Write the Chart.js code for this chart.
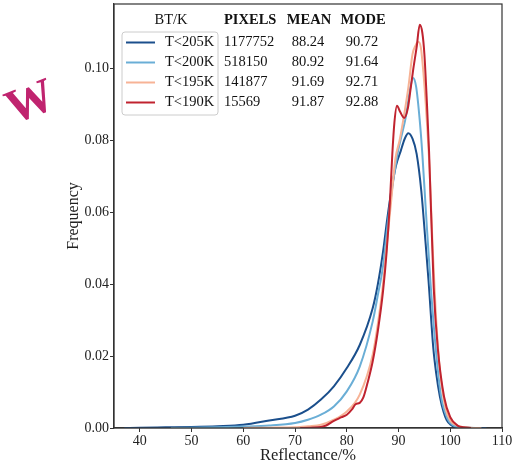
<!DOCTYPE html>
<html>
<head>
<meta charset="utf-8">
<script src="https://cdn.jsdelivr.net/npm/chart.js@4/dist/chart.umd.min.js"></script>
<style>
html, body { margin: 0; padding: 0; background: #fff; }
</style>
</head>
<body>
<canvas id="chart" width="512" height="471"></canvas>
<script>
// labels, colours and the stats table
var seriesLabels = ['T<205K', 'T<200K', 'T<195K', 'T<190K'];
var seriesColors = ['#1b4f8c', '#6aaed6', '#f7b396', '#c0232f'];
var pixelCounts = ['1177752', '518150', '141877', '15569'];
var meanValues = ['88.24', '80.92', '91.69', '91.87'];
var modeValues = ['90.72', '91.64', '92.71', '92.88'];

var xTicks = [40, 50, 60, 70, 80, 90, 100, 110];
var yTicks = [0, 0.02, 0.04, 0.06, 0.08, 0.10];

// density curves
var x205 = [37, 40, 45, 50, 55, 60, 65, 70, 72.5, 75, 77.5, 80, 82.5, 85, 86, 87, 87.8, 88.6, 89.5, 90.4, 91.2, 91.9, 92.7, 93.5, 94.4, 95.2, 95.8, 96.7, 97.3, 98, 98.7, 99.3, 100, 101, 103, 107];
var y205 = [0, 0.0001, 0.0002, 0.0003, 0.0005, 0.0009, 0.0021, 0.0034, 0.0051, 0.0079, 0.0116, 0.0167, 0.0231, 0.0333, 0.040, 0.049, 0.058, 0.066, 0.073, 0.077, 0.0805, 0.082, 0.0805, 0.0763, 0.066, 0.052, 0.041, 0.0226, 0.015, 0.0087, 0.0045, 0.0022, 0.001, 0.0003, 0.0001, 0];

var x200 = [46, 50, 55, 60, 65, 70, 72.5, 75, 77.5, 80, 82.5, 85, 86, 87, 88, 89, 89.9, 90.7, 91.4, 92.2, 92.8, 93.4, 94.1, 94.6, 95.3, 96.2, 97.2, 98.2, 99.5, 100.5, 102, 106];
var y200 = [0, 0.0001, 0.0002, 0.0004, 0.0007, 0.0014, 0.0023, 0.0037, 0.006, 0.0102, 0.0171, 0.0296, 0.037, 0.045, 0.058, 0.069, 0.077, 0.082, 0.0865, 0.094, 0.0974, 0.095, 0.0856, 0.0763, 0.060, 0.040, 0.022, 0.009, 0.0025, 0.0008, 0.0002, 0];

var x195 = [60, 65, 70, 72.5, 75, 77.5, 80, 82.5, 85, 86, 87, 87.6, 88.5, 89.4, 90.2, 90.9, 91.9, 92.7, 93.3, 93.8, 94.3, 94.8, 95.4, 96.0, 96.6, 97.2, 98, 99, 100, 101.5, 104, 106];
var y195 = [0, 0.0001, 0.0002, 0.0005, 0.0009, 0.0023, 0.0046, 0.0093, 0.0204, 0.029, 0.040, 0.049, 0.062, 0.075, 0.080, 0.0856, 0.0948, 0.104, 0.1065, 0.1075, 0.106, 0.099, 0.087, 0.072, 0.05, 0.032, 0.016, 0.006, 0.002, 0.0006, 0.0001, 0];

var x190 = [71, 73, 75, 76, 77.5, 79, 80, 81, 81.7, 82.5, 83.2, 84, 85, 86, 87, 87.7, 88.3, 88.8, 89.2, 89.7, 90.3, 91.1, 91.8, 92.3, 92.8, 93.5, 94.1, 94.6, 95.0, 95.5, 95.9, 96.8, 97.6, 98.8, 100, 101.5, 102.5, 104];
var y190 = [0, 0.0001, 0.0003, 0.0007, 0.002, 0.003, 0.0037, 0.0052, 0.0066, 0.007, 0.0085, 0.0125, 0.0185, 0.027, 0.038, 0.049, 0.062, 0.0763, 0.085, 0.0897, 0.088, 0.0863, 0.089, 0.094, 0.0994, 0.106, 0.1122, 0.110, 0.104, 0.090, 0.077, 0.039, 0.022, 0.0087, 0.003, 0.0006, 0.0002, 0];

var allX = [x205, x200, x195, x190];
var allY = [y205, y200, y195, y190];

var serif = 'Liberation Serif';

function toPoints(xs, ys) {
    return xs.map(function (x, i) { return { x: x, y: ys[i] }; });
}

var datasets = seriesLabels.map(function (label, i) {
    return {
        label: label,
        data: toPoints(allX[i], allY[i]),
        borderColor: seriesColors[i],
        backgroundColor: seriesColors[i],
        order: 3 - i   // red on top
    };
});

// frame, legend box, stats table, watermark
var decor = {
    id: 'decor',
    afterDraw: function (chart) {
        var ctx = chart.ctx;
        var a = chart.chartArea;
        ctx.save();
        ctx.strokeStyle = '#333';
        ctx.lineWidth = 1.2;
        ctx.strokeRect(a.left, a.top, a.right - a.left, a.bottom - a.top);

        // legend box
        ctx.beginPath();
        ctx.roundRect(122, 32, 96, 83, 3);
        ctx.fillStyle = 'rgba(255,255,255,0.85)';
        ctx.fill();
        ctx.strokeStyle = '#cccccc';
        ctx.lineWidth = 1;
        ctx.stroke();

        ctx.textBaseline = 'middle';
        ctx.fillStyle = '#111';
        ctx.font = '14.5px "' + serif + '"';
        ctx.textAlign = 'center';
        ctx.fillText('BT/K', 171, 20.5);

        ctx.font = 'bold 14.5px "' + serif + '"';
        ctx.textAlign = 'left';
        ctx.fillText('PIXELS', 224, 20.5);
        ctx.textAlign = 'center';
        ctx.fillText('MEAN', 309, 20.5);
        ctx.fillText('MODE', 363, 20.5);

        ctx.font = '14.5px "' + serif + '"';
        for (var i = 0; i < seriesLabels.length; i++) {
            var y = 42.5 + i * 20;
            ctx.strokeStyle = seriesColors[i];
            ctx.lineWidth = 2;
            ctx.beginPath();
            ctx.moveTo(126, y);
            ctx.lineTo(155, y);
            ctx.stroke();
            ctx.fillStyle = '#111';
            ctx.textAlign = 'left';
            ctx.fillText(seriesLabels[i], 165, y);
            ctx.fillText(pixelCounts[i], 224, y);
            ctx.textAlign = 'center';
            ctx.fillText(meanValues[i], 308, y);
            ctx.fillText(modeValues[i], 362, y);
        }

        // watermark
        ctx.translate(31, 104);
        ctx.rotate(-0.37);
        ctx.fillStyle = '#c0246f';
        ctx.font = 'bold 48px "' + serif + '"';
        ctx.textAlign = 'center';
        ctx.fillText('W', 0, 0);
        ctx.restore();
    }
};

var tickFont = { family: serif, size: 14 };

new Chart(document.getElementById('chart'), {
    type: 'line',
    data: { datasets: datasets },
    options: {
        responsive: false,
        animation: false,
        layout: { padding: { left: 60, right: 10, top: 4, bottom: 1 } },
        plugins: { legend: { display: false }, tooltip: { enabled: false } },
        elements: {
            point: { radius: 0 },
            line: { borderWidth: 2, cubicInterpolationMode: 'monotone' }
        },
        scales: {
            x: {
                type: 'linear',
                min: 35,
                max: 110,
                afterBuildTicks: function (s) { s.ticks = xTicks.map(function (v) { return { value: v }; }); },
                afterFit: function (s) { s.height = 42; s.paddingLeft = 0; s.paddingRight = 0; },
                grid: { drawOnChartArea: false, tickLength: 4, color: '#333' },
                border: { color: '#333', width: 1.2 },
                ticks: { padding: 1, color: '#222', font: tickFont },
                title: { display: true, text: 'Reflectance/%', color: '#222', font: { family: serif, size: 16.5 } }
            },
            y: {
                min: 0,
                max: 0.118,
                afterBuildTicks: function (s) { s.ticks = yTicks.map(function (v) { return { value: v }; }); },
                afterFit: function (s) { s.width = 54; s.paddingTop = 0; s.paddingBottom = 0; },
                grid: { drawOnChartArea: false, tickLength: 4, color: '#333' },
                border: { color: '#333', width: 1.2 },
                ticks: { padding: 1, color: '#222', font: tickFont, callback: function (v) { return v.toFixed(2); } },
                title: { display: true, text: 'Frequency', color: '#222', font: { family: serif, size: 16 } }
            }
        }
    },
    plugins: [decor]
});
</script>
</body>
</html>
